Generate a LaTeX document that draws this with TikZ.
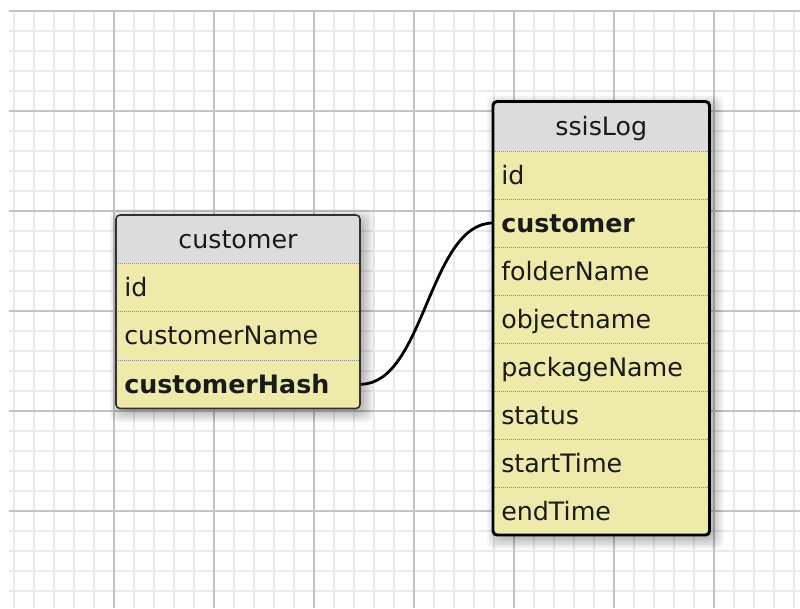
\documentclass[tikz,border=0pt]{standalone}
\usepackage{fontspec}
\setmainfont{DejaVu Sans}

\definecolor{rowyellow}{HTML}{EEEBAA}
\definecolor{headgray}{HTML}{DCDCDC}
\definecolor{gridmajor}{HTML}{C4C4C4}
\definecolor{gridminor}{HTML}{EAEAEA}
\definecolor{sepgray}{HTML}{8C8C8C}
\definecolor{inkdark}{HTML}{1A1A1A}

\tikzset{
  minorline/.style={gridminor, line width=0.9pt},
  majorline/.style={gridmajor, line width=0.9pt},
  shadowlayer/.style={fill=black, fill opacity=0.045, rounded corners=6pt},
  tablebody/.style={fill=rowyellow, rounded corners=3pt},
  rowsep/.style={sepgray, line width=0.7pt, dash pattern=on 0.75pt off 0.75pt},
  cellbase/.style={inner xsep=6pt, inner ysep=0pt, text height=14pt, text depth=0.5pt,
      font=\fontsize{19}{22}\selectfont, text=inkdark},
  titlecell/.style={cellbase, anchor=center},
  custrow/.style={cellbase, anchor=west, text width=171pt, align=left},
  logrow/.style={cellbase, anchor=west, text width=150.4pt, align=left},
  link/.style={draw=black, line width=2.1pt},
}

% soft drop shadow: stacked translucent rounded boxes, offset down and right
\newcommand{\softshadow}[4]{%
  \foreach \e in {-2,0,...,10}
    \fill[shadowlayer] ({#1+4-\e},{#2+4-\e}) rectangle ({#3+4+\e},{#4+4+\e});
}

\begin{document}
\begin{tikzpicture}[x=0.75pt, y=-0.75pt]
\useasboundingbox (0,0) rectangle (800,608);
\fill[white] (0,0) rectangle (800,608);

% background grid: fine lines every 20 px, stronger lines every 100 px
\foreach \gx in {14,34,...,794} \draw[minorline] (\gx,11) -- (\gx,608);
\foreach \gy in {31,51,...,591} \draw[minorline] (9,\gy) -- (800,\gy);
\foreach \gx in {114,214,...,714} \draw[majorline] (\gx,11) -- (\gx,608);
\foreach \gy in {11,111,...,511} \draw[majorline] (9,\gy) -- (800,\gy);

% ---------- table: customer ----------
\softshadow{116}{215}{360}{408.5}
\path[tablebody] (116,215) rectangle (360,408.5);
\begin{scope}
  \clip[rounded corners=3pt] (116,215) rectangle (360,408.5);
  \fill[headgray] (116,215) rectangle (360,263);
\end{scope}
\foreach \sy in {263,311.5,360} \draw[rowsep] (116,\sy) -- (360,\sy);
\draw[draw=inkdark!90, line width=1.2pt, rounded corners=3pt] (116,215) rectangle (360,408.5);

\node[titlecell] (ctitle) at (238,239) {customer};
\node[custrow] (c1) at (116,287.25) {id};
\node[custrow] (c2) at (116,335.75) {customerName};
\node[custrow] (c3) at (116,384.25) {\bfseries customerHash};

% ---------- table: ssisLog ----------
\softshadow{493}{101.5}{709.5}{535}
\path[tablebody] (493,101.5) rectangle (709.5,535);
\begin{scope}
  \clip[rounded corners=3pt] (493,101.5) rectangle (709.5,535);
  \fill[headgray] (493,101.5) rectangle (709.5,151);
\end{scope}
\foreach \sy in {151,199,247,295,343,391,439,487} \draw[rowsep] (493,\sy) -- (709.5,\sy);
\draw[draw=black, line width=2.2pt, rounded corners=3pt] (493,101.5) rectangle (709.5,535);

\node[titlecell] (stitle) at (601.25,126) {ssisLog};
\node[logrow] (s1) at (493,175) {id};
\node[logrow] (s2) at (493,223) {\bfseries customer};
\node[logrow] (s3) at (493,271) {folderName};
\node[logrow] (s4) at (493,319) {objectname};
\node[logrow] (s5) at (493,367) {packageName};
\node[logrow] (s6) at (493,415) {status};
\node[logrow] (s7) at (493,463) {startTime};
\node[logrow] (s8) at (493,511) {endTime};

% ---------- relation ----------
\draw[link] (c3.east) .. controls +(64,0) and +(-64,0) .. (s2.west);
\end{tikzpicture}
\end{document}
